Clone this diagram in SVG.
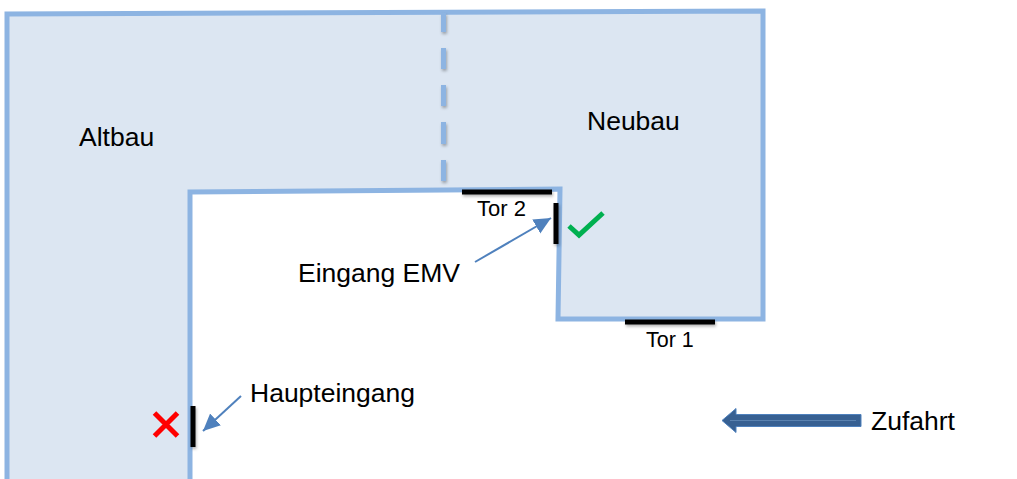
<svg xmlns="http://www.w3.org/2000/svg" width="1017" height="479" viewBox="0 0 1017 479">
<style>
.t{font-family:"Liberation Sans",Arial,sans-serif;fill:#000}
.l{font-size:26.500px}
.s{font-size:21.500px}
.bar{stroke:#000;stroke-width:5;fill:none;filter:url(#sh)}
.dash{stroke:#8db4e2;stroke-width:5;fill:none;filter:url(#sh)}
.arr{stroke:#4f81bd;stroke-width:2;fill:none;marker-end:url(#ah)}
</style>
<defs>
<filter id="sh" filterUnits="userSpaceOnUse" x="0" y="0" width="1017" height="479"><feDropShadow dx="1" dy="2" stdDeviation="1.500" flood-color="#000" flood-opacity="0.3"/></filter>
<marker id="ah" markerUnits="userSpaceOnUse" markerWidth="20" markerHeight="18" refX="17" refY="8" orient="auto"><path d="M0,0L17,8L0,16z" fill="#4f81bd"/></marker>
</defs>
<g id="building">
<path d="M7,479V14L763,11V319L558,319L560,189L190,192V479" fill="#dce6f2" stroke="#8db4e2" stroke-width="5"/>
</g>
<g id="dividers">
<path class="dash" d="M443.500,13V32M443.500,48V69M443.500,85V106M443.500,122V144M443.500,160V181"/>
</g>
<g id="doors">
<path class="bar" d="M462,192H552"/>
<path class="bar" d="M556,203V244"/>
<path class="bar" d="M625,322H715"/>
<path class="bar" d="M193,406V447"/>
</g>
<g id="connectors">
<path class="arr" d="M475,262L551,218"/>
<path class="arr" d="M241,396L203,431"/>
</g>
<g id="access-arrow">
<path d="M861,414.500H736V408.500L722,420.500L736,432.500V426.500H861Z" fill="#376092" stroke="#4f81bd" stroke-width="1"/>
<path d="M730,420.500H856" stroke="#5a82b0" stroke-width="1" fill="none"/>
</g>
<g id="marks">
<path d="M569,226L579,235L603,213" fill="none" stroke="#00b050" stroke-width="5"/>
<path d="M154.500,413L177.500,436M177.500,413L154.500,436" fill="none" stroke="#f00" stroke-width="5"/>
</g>
<g id="labels">
<text class="t l" x="79" y="146">Altbau</text>
<text class="t l" x="587" y="130">Neubau</text>
<text class="t" style="font-size:22px" x="477" y="216">Tor 2</text>
<text class="t s" x="646" y="347">Tor 1</text>
<text class="t l" x="298" y="282">Eingang EMV</text>
<text class="t l" x="250" y="402">Haupteingang</text>
<text class="t l" x="871" y="430">Zufahrt</text>
</g>
</svg>
